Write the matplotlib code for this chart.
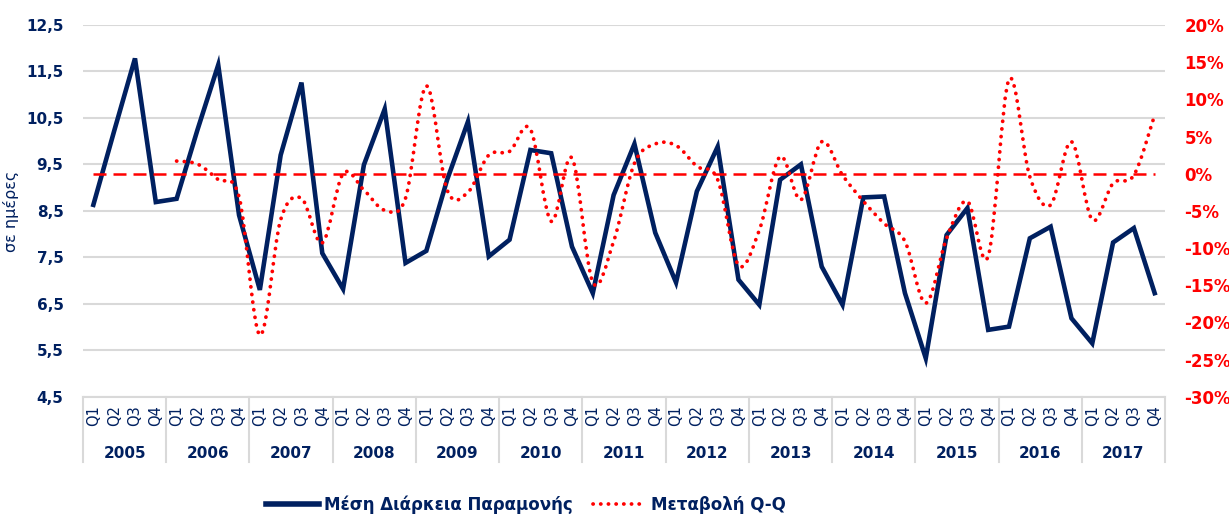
import numpy as np
import matplotlib.pyplot as plt
import matplotlib.transforms as mtransforms
from matplotlib.path import Path
from matplotlib.patches import PathPatch
from matplotlib.lines import Line2D
from matplotlib.ticker import FuncFormatter

plt.rcParams['font.family'] = ['DejaVu Sans']

### Data
years = [str(y) for y in range(2005, 2018)]
quarters = ['Q1', 'Q2', 'Q3', 'Q4']

# average length of stay (days), 2005Q1 .. 2017Q4
stay_days = [8.63, 10.22, 11.78, 8.69,
             8.76, 10.24, 11.64, 8.41,
             6.80, 9.70, 11.26, 7.59,
             6.82, 9.49, 10.69, 7.38,
             7.64, 9.17, 10.42, 7.52,
             7.88, 9.81, 9.74, 7.73,
             6.73, 8.84, 9.94, 8.03,
             6.96, 8.92, 9.88, 7.02,
             6.48, 9.17, 9.50, 7.30,
             6.48, 8.79, 8.81, 6.73,
             5.33, 7.98, 8.56, 5.94,
             6.01, 7.91, 8.16, 6.19,
             5.65, 7.82, 8.13, 6.73]

# change Q-Q (%), starts 2006Q1
qq_change = [1.7, 1.3, -0.8, -3.1,
             -21.7, -6.2, -3.3, -9.3,
             0.0, -2.2, -4.9, -3.3,
             11.8, -2.2, -2.5, 2.5,
             3.0, 6.0, -6.4, 2.1,
             -14.6, -9.1, 1.4, 4.0,
             3.8, 1.0, -0.8, -12.3,
             -7.6, 2.3, -3.5, 4.3,
             -0.2, -3.7, -6.7, -9.1,
             -17.4, -8.7, -3.7, -11.1,
             12.7, -0.4, -4.2, 4.3,
             -6.2, -1.3, -0.2, 7.9]
qq_start = 4  # index of 2006Q1

zero_line = [0.0] * len(stay_days)

navy = '#002060'
red = '#FF0000'
grid_grey = '#D9D9D9'

x = np.arange(len(stay_days))


def smooth_path(xs, ys):
    """Excel-like smoothed line: cubic bezier through every point."""
    pts = np.column_stack([xs, ys])
    verts = [pts[0]]
    codes = [Path.MOVETO]
    n = len(pts)
    for i in range(n - 1):
        p0 = pts[max(i - 1, 0)]
        p1 = pts[i]
        p2 = pts[i + 1]
        p3 = pts[min(i + 2, n - 1)]
        c1 = p1 + (p2 - p0) / 6.0
        c2 = p2 - (p3 - p1) / 6.0
        verts += [c1, c2, p2]
        codes += [Path.CURVE4] * 3
    return Path(verts, codes)


fig, ax = plt.subplots(figsize=(12.29, 5.16), dpi=100)
fig.subplots_adjust(left=0.0675, right=0.948, top=0.9516, bottom=0.231)

### Left axis: length of stay
ax.plot(x, stay_days, color=navy, lw=3.3, solid_joinstyle='miter', zorder=3)
ax.set_xlim(-0.5, len(stay_days) - 0.5)
ax.set_ylim(4.5, 12.5)
ax.set_yticks(np.arange(4.5, 12.6, 1.0))
ax.yaxis.set_major_formatter(FuncFormatter(lambda v, p: f'{v:.1f}'.replace('.', ',')))
ax.tick_params(axis='y', length=0, pad=14, labelsize=11, labelcolor=navy)
for lab in ax.get_yticklabels():
    lab.set_fontweight('bold')
ax.grid(axis='y', color=grid_grey, lw=1.5, zorder=0)
ax.set_axisbelow(True)
for s in ['top', 'right', 'left']:
    ax.spines[s].set_visible(False)
ax.spines['bottom'].set_color(grid_grey)
ax.spines['bottom'].set_linewidth(1.5)

ax.set_ylabel('σε ημέρες', color=navy, fontsize=11.5, labelpad=5)

# two-level category axis
ax.set_xticks(x)
ax.set_xticklabels([q for _ in years for q in quarters], rotation=90,
                   fontsize=10.5, color=navy)
ax.tick_params(axis='x', length=0, pad=6)
trans = mtransforms.blended_transform_factory(ax.transData, ax.transAxes)
for k in range(len(years) + 1):
    ax.plot([4 * k - 0.5, 4 * k - 0.5], [0, -0.175], transform=trans,
            color=grid_grey, lw=1.5, clip_on=False)
for k, yr in enumerate(years):
    ax.text(4 * k + 1.5, -0.152, yr, transform=trans, ha='center', va='center',
            fontsize=11, fontweight='bold', color=navy)

### Right axis: change Q-Q
ax2 = ax.twinx()
ax2.set_ylim(-30, 20)
ax2.set_yticks(np.arange(-30, 21, 5))
ax2.yaxis.set_major_formatter(FuncFormatter(lambda v, p: f'{v:.0f}%'))
ax2.tick_params(axis='y', length=0, pad=14, labelsize=12, labelcolor=red)
for lab in ax2.get_yticklabels():
    lab.set_fontweight('bold')
for s in ax2.spines.values():
    s.set_visible(False)

ax2.plot(x, zero_line, color=red, lw=1.8, linestyle=(0, (5.2, 2.8)), zorder=2)

qq_x = x[qq_start:]
patch = PathPatch(smooth_path(qq_x, qq_change), facecolor='none', edgecolor=red,
                  lw=2.7, linestyle=(0, (0.05, 2.0)), capstyle='round', zorder=4)
ax2.add_patch(patch)

### Legend
handles = [
    Line2D([], [], color=navy, lw=4),
    Line2D([], [], color=red, lw=2.7, linestyle=(0, (0.05, 2.0)), dash_capstyle='round'),
]
labels = ['Μέση Διάρκεια Παραμονής', 'Μεταβολή Q-Q']
leg = fig.legend(handles, labels, loc='center', bbox_to_anchor=(0.428, 0.022),
                 ncol=2, frameon=False, handlelength=3.2, columnspacing=1.2,
                 handletextpad=0.3, prop={'size': 12, 'weight': 'bold'})
for t in leg.get_texts():
    t.set_color(navy)

plt.savefig('out.png', dpi=100)
